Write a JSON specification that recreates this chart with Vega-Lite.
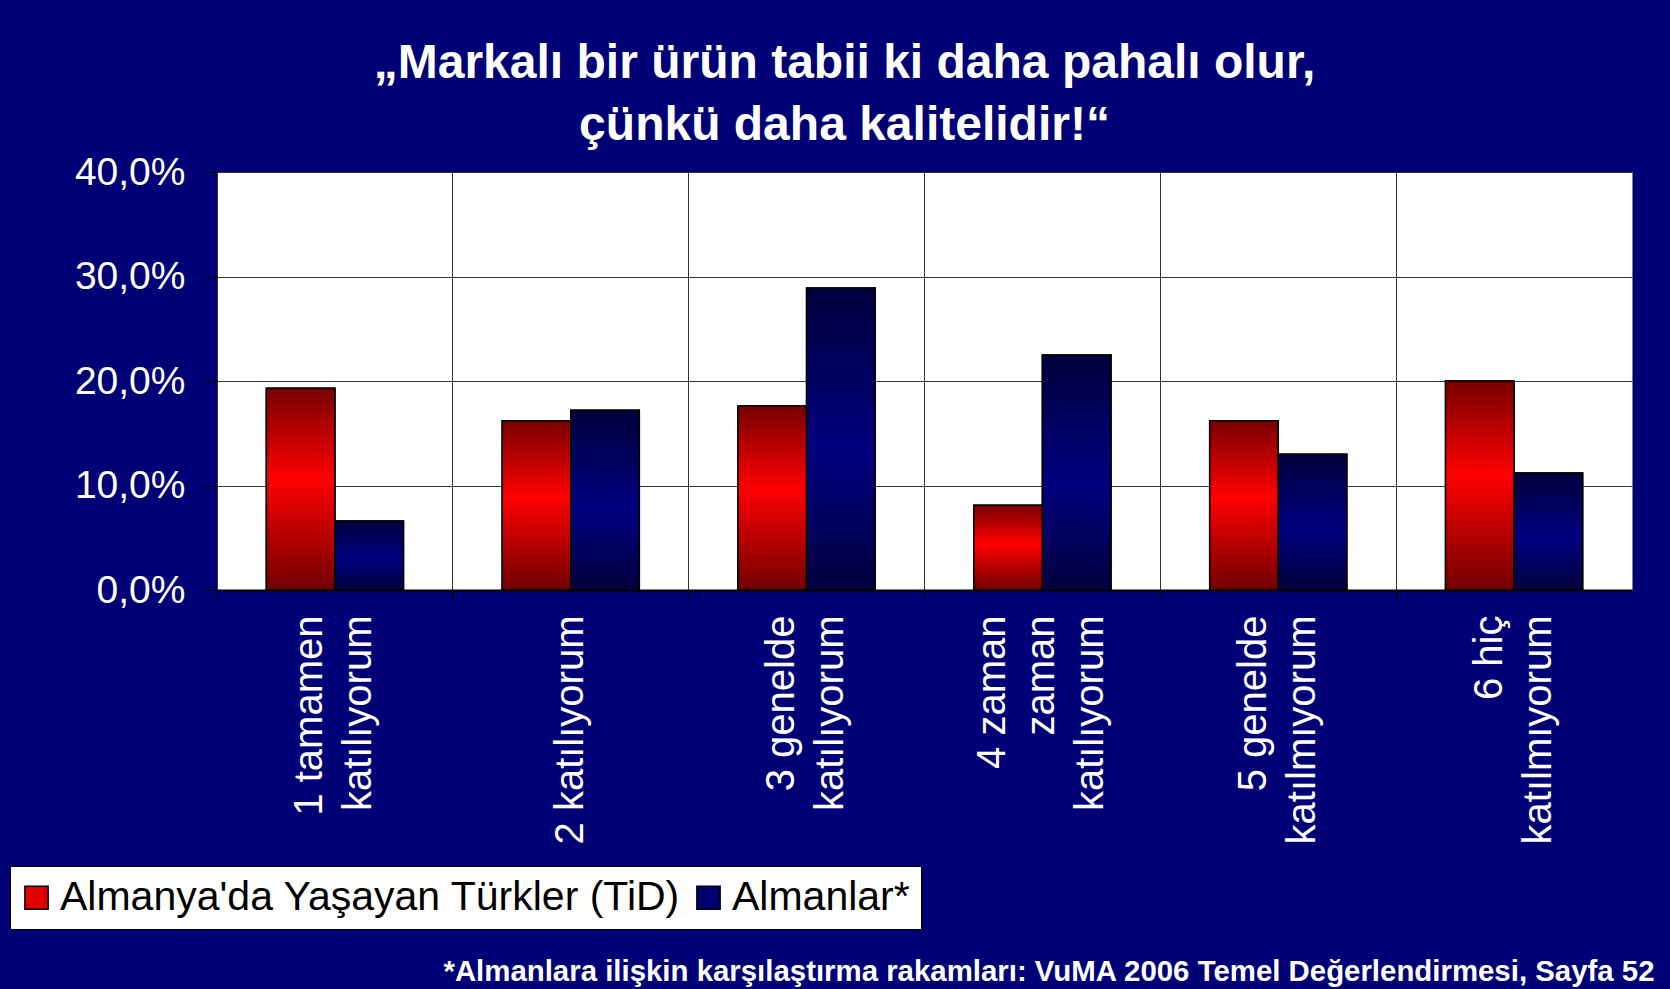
{
  "$schema": "https://vega.github.io/schema/vega-lite/v6.json",
  "width": 1415,
  "height": 418,
  "autosize": {"type": "none"},
  "padding": {"left": 217, "top": 172, "right": 38, "bottom": 399},
  "background": "#000076",
  "config": {
    "font": "Liberation Sans",
    "view": {"fill": "white", "stroke": "#808080", "strokeWidth": 1}
  },
  "title": {
    "text": ["„Markalı bir ürün tabii ki daha pahalı olur,", "çünkü daha kalitelidir!“"],
    "font": "Liberation Sans",
    "fontSize": 48,
    "fontWeight": "bold",
    "color": "white",
    "lineHeight": 62,
    "anchor": "middle",
    "dx": -80,
    "offset": 3
  },
  "data": {
    "values": [
      {"cat": "1 tamamen|katılıyorum", "series": "Almanya'da Yaşayan Türkler (TiD)", "value": 19.3},
      {"cat": "1 tamamen|katılıyorum", "series": "Almanlar*", "value": 6.6},
      {"cat": "2 katılıyorum", "series": "Almanya'da Yaşayan Türkler (TiD)", "value": 16.2},
      {"cat": "2 katılıyorum", "series": "Almanlar*", "value": 17.2},
      {"cat": "3 genelde\u00a0|katılıyorum", "series": "Almanya'da Yaşayan Türkler (TiD)", "value": 17.6},
      {"cat": "3 genelde\u00a0|katılıyorum", "series": "Almanlar*", "value": 28.9},
      {"cat": "4 zaman\u00a0\u00a0|zaman\u00a0\u00a0\u00a0|katılıyorum", "series": "Almanya'da Yaşayan Türkler (TiD)", "value": 8.1},
      {"cat": "4 zaman\u00a0\u00a0|zaman\u00a0\u00a0\u00a0|katılıyorum", "series": "Almanlar*", "value": 22.5},
      {"cat": "5 genelde\u00a0\u00a0|katılmıyorum", "series": "Almanya'da Yaşayan Türkler (TiD)", "value": 16.2},
      {"cat": "5 genelde\u00a0\u00a0|katılmıyorum", "series": "Almanlar*", "value": 13.0},
      {"cat": "6 hiç\u00a0\u00a0\u00a0\u00a0\u00a0\u00a0|katılmıyorum", "series": "Almanya'da Yaşayan Türkler (TiD)", "value": 20.0},
      {"cat": "6 hiç\u00a0\u00a0\u00a0\u00a0\u00a0\u00a0|katılmıyorum", "series": "Almanlar*", "value": 11.2}
    ]
  },
  "encoding": {
    "x": {
      "field": "cat",
      "type": "nominal",
      "sort": null,
      "scale": {"paddingInner": 0, "paddingOuter": 0},
      "axis": {
        "title": "*Almanlara ilişkin karşılaştırma rakamları: VuMA 2006 Temel Değerlendirmesi, Sayfa 52",
        "titleFont": "Liberation Sans",
        "titleFontWeight": "bold",
        "titleFontSize": 29.4,
        "titleColor": "white",
        "titleAnchor": "end",
        "titleAlign": "right",
        "titleBaseline": "alphabetic",
        "titleX": 1437,
        "titleY": 390,
        "bandPosition": 0,
        "grid": true,
        "gridColor": "#333333",
        "gridWidth": 1,
        "domain": true,
        "domainColor": "black",
        "domainWidth": 2,
        "ticks": true,
        "tickColor": "black",
        "tickSize": 10,
        "labelExpr": "split(datum.value, '|')",
        "labelOffset": {
          "condition": [
            {"test": "length(split(datum.value, '|')) == 3", "value": -49},
            {"test": "length(split(datum.value, '|')) == 2", "value": -24.5}
          ],
          "value": 0
        },
        "labelAngle": -90,
        "labelAlign": "right",
        "labelBaseline": "middle",
        "labelPadding": 15,
        "labelFont": "Liberation Sans",
        "labelFontSize": 40,
        "labelLineHeight": 49,
        "labelColor": "white",
        "labelLimit": 0,
        "labelOverlap": false,
        "labelBound": false,
        "labelFlush": false
      }
    },
    "xOffset": {
      "field": "series",
      "type": "nominal",
      "sort": ["Almanya'da Yaşayan Türkler (TiD)", "Almanlar*"],
      "scale": {"paddingInner": 0, "paddingOuter": 0.72}
    },
    "y": {
      "field": "value",
      "type": "quantitative",
      "scale": {"domain": [0, 40], "nice": false},
      "axis": {
        "title": null,
        "values": [0, 10, 20, 30, 40],
        "grid": true,
        "gridColor": "#333333",
        "gridWidth": 1,
        "domain": false,
        "ticks": true,
        "tickColor": "black",
        "tickSize": 13,
        "labelPadding": 19,
        "labelFont": "Liberation Sans",
        "labelFontSize": 39,
        "labelColor": "white",
        "labelExpr": "replace(format(datum.value, '.1f'), '.', ',') + '%'"
      }
    }
  },
  "layer": [
    {
      "mark": {"type": "bar", "stroke": "black", "strokeWidth": 1.5},
      "encoding": {
        "color": {
          "field": "series",
          "type": "nominal",
          "sort": ["Almanya'da Yaşayan Türkler (TiD)", "Almanlar*"],
          "scale": {"domain": ["Almanya'da Yaşayan Türkler (TiD)", "Almanlar*"], "range": ["#e00000", "#000070"]},
          "legend": {
            "title": null,
            "orient": "none",
            "legendX": -207,
            "legendY": 694,
            "direction": "horizontal",
            "fillColor": "white",
            "strokeColor": "black",
            "padding": 11,
            "columnPadding": 12,
            "labelOffset": 3,
            "symbolOffset": -5,
            "labelFont": "Liberation Sans",
            "labelFontSize": 41,
            "labelColor": "black",
            "labelLimit": 0,
            "symbolType": "square",
            "symbolSize": 540,
            "symbolStrokeColor": "black",
            "symbolStrokeWidth": 1.5,
            "symbolOpacity": 1
          }
        }
      }
    },
    {
      "mark": {"type": "bar", "stroke": "black", "strokeWidth": 1.5},
      "encoding": {
        "fill": {
          "condition": {
            "test": "datum.series === 'Almanlar*'",
            "value": {
              "gradient": "linear", "x1": 0, "y1": 0, "x2": 0, "y2": 1,
              "stops": [
                {"offset": 0, "color": "#00003c"},
                {"offset": 0.55, "color": "#000080"},
                {"offset": 1, "color": "#00003c"}
              ]
            }
          },
          "value": {
            "gradient": "linear", "x1": 0, "y1": 0, "x2": 0, "y2": 1,
            "stops": [
              {"offset": 0, "color": "#780000"},
              {"offset": 0.45, "color": "#ff0000"},
              {"offset": 1, "color": "#700000"}
            ]
          }
        }
      }
    }
  ]
}
